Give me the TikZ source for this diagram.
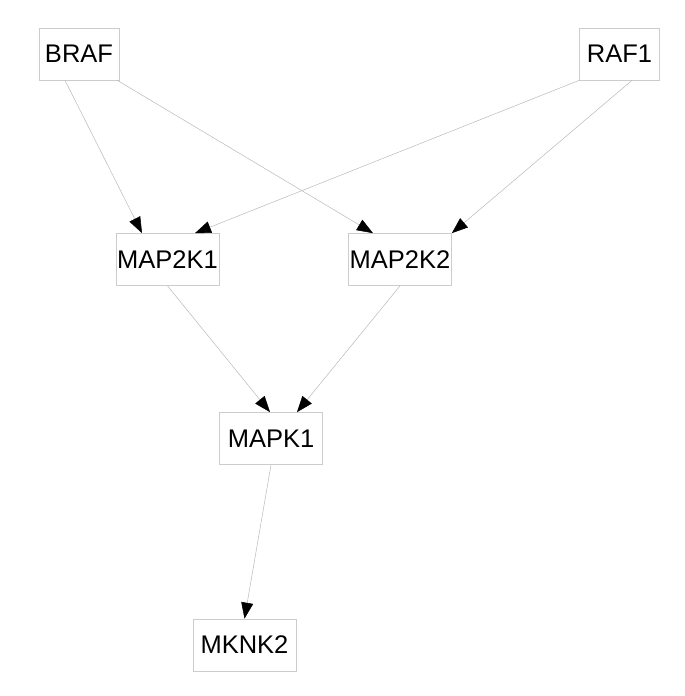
\documentclass[tikz,border=0pt]{standalone}
\usepackage{fontspec}
\setmainfont{Liberation Sans}
\usetikzlibrary{arrows.meta,calc}

\tikzset{
  gene/.style={draw=gray!40, line width=0.7pt, fill=white, minimum width=103pt,
    minimum height=52pt, inner xsep=1pt, inner ysep=2pt,
    font=\fontsize{25.5}{30}\selectfont},
  shortgene/.style={gene, minimum width=80pt},
  link/.style={draw=gray!55, line width=0.5pt,
    -{Triangle[length=16pt,width=12pt,color=black]}}
}

\begin{document}
\begin{tikzpicture}[x=1pt, y=-1pt]
\useasboundingbox (0,0) rectangle (685,696);

% Genes
\node[shortgene] (braf) at (79,54) {BRAF};
\node[shortgene] (rafone) at (619.5,54) {RAF1};
\node[gene] (mapkkone) at (167.5,259.5) {MAP2K1};
\node[gene] (mapkktwo) at (400,259.5) {MAP2K2};
\node[gene] (mapkone) at (271,438.5) {MAPK1};
\node[gene] (mknktwo) at (244.5,645) {MKNK2};

% Interactions
\draw[link] ([xshift=-14pt]braf.south) -- ([xshift=-25.5pt]mapkkone.north);
\draw[link] ([xshift=-2pt]braf.south east) -- ([xshift=-27pt]mapkktwo.north);
\draw[link] (rafone.south west) -- ([xshift=27.5pt]mapkkone.north);
\draw[link] ([xshift=12.5pt]rafone.south) -- (mapkktwo.north east);
\draw[link] (mapkkone.south) -- ([xshift=-1pt]mapkone.north);
\draw[link] (mapkktwo.south) -- ([xshift=26pt]mapkone.north);
\draw[link] (mapkone.south) -- (mknktwo.north);

\end{tikzpicture}
\end{document}
